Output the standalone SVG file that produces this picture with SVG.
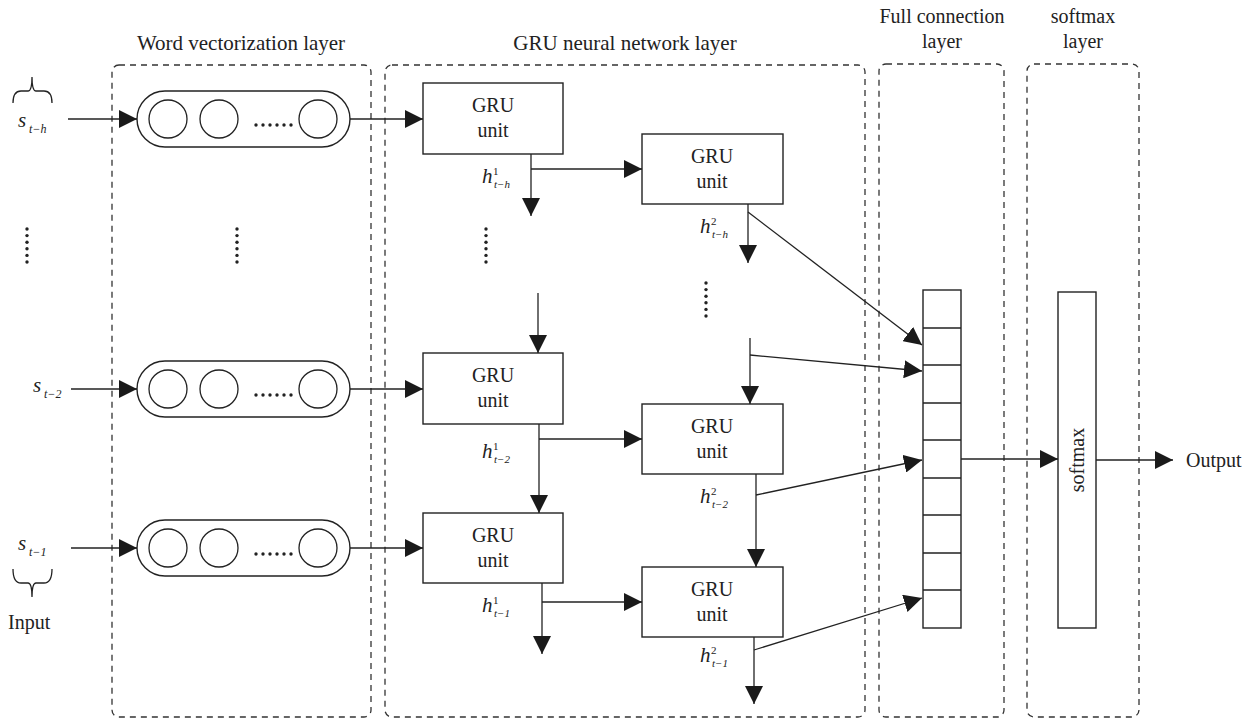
<svg xmlns="http://www.w3.org/2000/svg" width="1259" height="720" viewBox="0 0 1259 720">
<defs>
<style>
text{font-family:"Liberation Serif","Times New Roman",serif;fill:#222}
.t{font-size:20px;text-anchor:middle}
.tt{font-size:21px;text-anchor:middle}
.it{font-style:italic}
.dash{fill:none;stroke:#333;stroke-width:1.3;stroke-dasharray:6 5}
.box{fill:#fff;stroke:#222;stroke-width:1.4}
.c{fill:none;stroke:#222;stroke-width:1.3}
.ln{fill:none;stroke:#222;stroke-width:1.3}
.arr{fill:none;stroke:#222;stroke-width:1.3;marker-end:url(#ah)}
.dot{fill:#222}
</style>
<marker id="ah" viewBox="0 0 18 18" refX="18" refY="9" markerWidth="18" markerHeight="18" markerUnits="userSpaceOnUse" orient="auto">
<path d="M0,0 L18,9 L0,18 z" fill="#1a1a1a"/>
</marker>
<g id="pillShape">
<rect x="0" y="-28" width="213" height="56" rx="28" class="box"/>
<circle cx="31" cy="0" r="19" class="c"/>
<circle cx="82" cy="0" r="19" class="c"/>
<circle cx="181" cy="0" r="19" class="c"/>
<circle cx="119" cy="6" r="1.7" class="dot"/><circle cx="126" cy="6" r="1.7" class="dot"/><circle cx="133" cy="6" r="1.7" class="dot"/><circle cx="140" cy="6" r="1.7" class="dot"/><circle cx="147" cy="6" r="1.7" class="dot"/><circle cx="154" cy="6" r="1.7" class="dot"/>
</g>
<g id="vdots">
<circle cx="0" cy="0" r="1.7" class="dot"/><circle cx="0" cy="6.6" r="1.7" class="dot"/><circle cx="0" cy="13.2" r="1.7" class="dot"/><circle cx="0" cy="19.8" r="1.7" class="dot"/><circle cx="0" cy="26.4" r="1.7" class="dot"/><circle cx="0" cy="33" r="1.7" class="dot"/>
</g>
</defs>
<rect width="1259" height="720" fill="#fff"/>

<g id="layers">
<rect x="112" y="65" width="259" height="652" rx="7" class="dash"/>
<rect x="385" y="65" width="480" height="652" rx="7" class="dash"/>
<rect x="879" y="64" width="125" height="653" rx="7" class="dash"/>
<rect x="1027" y="64" width="112" height="653" rx="7" class="dash"/>
<text class="tt" x="241" y="50">Word vectorization layer</text>
<text class="tt" x="625" y="50">GRU neural network layer</text>
<text class="t" x="942" y="23">Full connection</text>
<text class="t" x="942" y="48">layer</text>
<text class="t" x="1083" y="23">softmax</text>
<text class="t" x="1083" y="48">layer</text>
</g>

<g id="inputs">
<path class="ln" d="M13,103 Q13,91 21,91 L28,91 Q32,91 32,77 Q32,91 36,91 L44,91 Q52,91 52,103"/>
<text class="it" x="18" y="127" font-size="21">s</text><text class="it" x="29" y="133" font-size="12">t−h</text>
<use href="#vdots" x="27" y="229"/>
<text class="it" x="33" y="392" font-size="21">s</text><text class="it" x="44" y="398" font-size="12">t−2</text>
<text class="it" x="18" y="550" font-size="21">s</text><text class="it" x="29" y="556" font-size="12">t−1</text>
<path class="ln" d="M13,569 Q13,583 21,583 L28,583 Q32,583 32,597 Q32,583 36,583 L44,583 Q52,583 52,569"/>
<text x="8" y="629" font-size="20">Input</text>
</g>

<g id="word-vectors">
<use href="#pillShape" x="137" y="119"/>
<use href="#pillShape" x="137" y="389"/>
<use href="#pillShape" x="137" y="548"/>
<use href="#vdots" x="237" y="229"/>
</g>

<g id="gru-l1-r1"><rect x="423" y="83" width="140" height="71" class="box"/><text class="t" x="493" y="112">GRU</text><text class="t" x="493" y="137">unit</text></g>
<g id="gru-l2-r1"><rect x="642" y="134" width="141" height="70" class="box"/><text class="t" x="712" y="163">GRU</text><text class="t" x="712" y="188">unit</text></g>
<g id="gru-l1-r2"><rect x="423" y="353" width="140" height="71" class="box"/><text class="t" x="493" y="382">GRU</text><text class="t" x="493" y="407">unit</text></g>
<g id="gru-l2-r2"><rect x="642" y="404" width="141" height="70" class="box"/><text class="t" x="712" y="433">GRU</text><text class="t" x="712" y="458">unit</text></g>
<g id="gru-l1-r3"><rect x="423" y="513" width="140" height="70" class="box"/><text class="t" x="493" y="542">GRU</text><text class="t" x="493" y="567">unit</text></g>
<g id="gru-l2-r3"><rect x="642" y="567" width="141" height="70" class="box"/><text class="t" x="712" y="596">GRU</text><text class="t" x="712" y="621">unit</text></g>

<g id="gru-dots">
<use href="#vdots" x="486" y="229"/>
<use href="#vdots" x="706" y="283"/>
</g>

<g id="h-labels">
<text class="it" x="482" y="183" font-size="21">h</text><text x="493" y="175" font-size="11">1</text><text class="it" x="494" y="188" font-size="11">t−h</text>
<text class="it" x="700" y="233" font-size="21">h</text><text x="711" y="225" font-size="11">2</text><text class="it" x="712" y="238" font-size="11">t−h</text>
<text class="it" x="482" y="458" font-size="21">h</text><text x="493" y="450" font-size="11">1</text><text class="it" x="494" y="463" font-size="11">t−2</text>
<text class="it" x="700" y="503" font-size="21">h</text><text x="711" y="495" font-size="11">2</text><text class="it" x="712" y="508" font-size="11">t−2</text>
<text class="it" x="482" y="612" font-size="21">h</text><text x="493" y="604" font-size="11">1</text><text class="it" x="494" y="617" font-size="11">t−1</text>
<text class="it" x="700" y="662" font-size="21">h</text><text x="711" y="654" font-size="11">2</text><text class="it" x="712" y="667" font-size="11">t−1</text>
</g>

<g id="full-connection">
<rect x="923" y="290" width="38" height="338" class="box"/>
<path class="ln" d="M923,328 H961 M923,365 H961 M923,403 H961 M923,440 H961 M923,478 H961 M923,515 H961 M923,553 H961 M923,590 H961"/>
</g>

<g id="softmax">
<rect x="1058" y="292" width="38" height="336" class="box"/>
<text class="t" transform="translate(1084,460) rotate(-90)">softmax</text>
</g>

<g id="output"><text x="1186" y="467" font-size="20">Output</text></g>

<g id="connectors">
<path class="arr" d="M68,119 H137"/>
<path class="arr" d="M71,389 H137"/>
<path class="arr" d="M71,548 H137"/>
<path class="arr" d="M350,119 H423"/>
<path class="arr" d="M350,389 H423"/>
<path class="arr" d="M350,548 H423"/>
<path class="arr" d="M531,154 V216"/>
<path class="arr" d="M531,169 H642"/>
<path class="arr" d="M748,204 V263"/>
<path class="arr" d="M748,212 L922,345"/>
<path class="arr" d="M538,293 V353"/>
<path class="arr" d="M539,424 V513"/>
<path class="arr" d="M539,439 H642"/>
<path class="arr" d="M750,338 V404"/>
<path class="arr" d="M750,355 L922,371"/>
<path class="arr" d="M756,474 V567"/>
<path class="arr" d="M756,495 L922,460"/>
<path class="arr" d="M542,583 V654"/>
<path class="arr" d="M542,602 H642"/>
<path class="arr" d="M754,637 V704"/>
<path class="arr" d="M754,650 L922,598"/>
<path class="arr" d="M961,459 H1058"/>
<path class="arr" d="M1096,460 H1173"/>
</g>
</svg>
